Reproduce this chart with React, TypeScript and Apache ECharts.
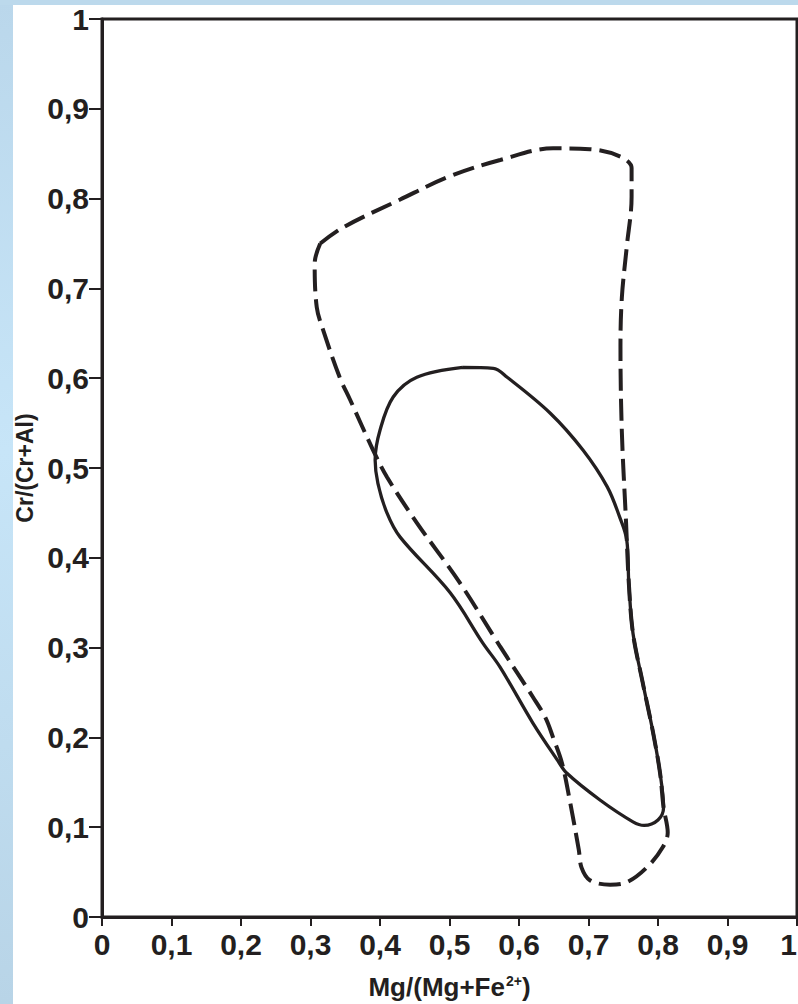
import React, { useEffect, useRef } from "react";
import * as echarts from "echarts";

// Dashed field outline: [Mg/(Mg+Fe2+), Cr/(Cr+Al)]
const dashedField: [number, number][] = [
  [0.314, 0.75], [0.347, 0.768], [0.429, 0.799], [0.501, 0.825], [0.573, 0.843],
  [0.649, 0.856], [0.702, 0.855], [0.745, 0.847], [0.762, 0.834], [0.762, 0.802],
  [0.755, 0.746], [0.748, 0.69], [0.746, 0.635], [0.748, 0.54], [0.754, 0.44],
  [0.758, 0.372], [0.764, 0.316], [0.778, 0.261], [0.793, 0.205], [0.803, 0.16],
  [0.808, 0.122], [0.814, 0.094], [0.807, 0.078], [0.785, 0.056], [0.756, 0.039],
  [0.731, 0.036], [0.702, 0.041], [0.69, 0.055], [0.686, 0.075], [0.673, 0.13],
  [0.662, 0.171], [0.649, 0.2], [0.638, 0.222], [0.62, 0.245], [0.573, 0.301],
  [0.515, 0.372], [0.453, 0.439], [0.41, 0.49], [0.39, 0.52], [0.357, 0.576],
  [0.342, 0.601], [0.318, 0.654], [0.309, 0.679], [0.306, 0.728], [0.314, 0.75],
];

// Solid field outline
const solidField: [number, number][] = [
  [0.519, 0.612], [0.563, 0.611], [0.583, 0.601], [0.645, 0.561], [0.692, 0.52],
  [0.727, 0.479], [0.745, 0.445], [0.755, 0.42], [0.758, 0.372], [0.764, 0.316],
  [0.778, 0.261], [0.793, 0.205], [0.803, 0.16], [0.808, 0.122], [0.8, 0.108],
  [0.78, 0.102], [0.764, 0.106], [0.717, 0.13], [0.669, 0.16], [0.655, 0.175],
  [0.62, 0.216], [0.573, 0.278], [0.548, 0.305], [0.501, 0.361], [0.429, 0.423],
  [0.41, 0.45], [0.397, 0.483], [0.393, 0.509], [0.4, 0.542], [0.419, 0.579],
  [0.453, 0.601], [0.519, 0.612],
];

const xAxisTitle = "{a|Mg/(Mg+Fe}{s|2+}{a|)}";
const yAxisTitle = "Cr/(Cr+Al)";

const INK = "#231f20";
const FONT = "'Liberation Sans', Arial, sans-serif";

const fmt = (v: number) =>
  v === 0 ? "0" : v === 1 ? "1" : v.toFixed(1).replace(".", ",");

export default function App() {
  const ref = useRef<HTMLDivElement>(null);

  useEffect(() => {
    if (!ref.current) return;
    const chart = echarts.init(ref.current, undefined, { renderer: "svg" });
    const blue = {
      type: "linear",
      x: 0, y: 0, x2: 0, y2: 1,
      colorStops: [
        { offset: 0, color: "#bad7eb" },
        { offset: 0.45, color: "#c7e5f8" },
        { offset: 1, color: "#b8d4e7" },
      ],
    };
    chart.setOption({
      animation: false,
      backgroundColor: "#ffffff",
      graphic: [
        { type: "rect", left: 0, top: 0, shape: { width: 13, height: 1004 }, style: { fill: blue }, silent: true },
        { type: "rect", left: 0, top: 0, shape: { width: 798, height: 5 }, style: { fill: "#bcd9ec" }, silent: true },
      ],
      grid: {
        left: 102,
        top: 19,
        right: 1,
        bottom: 87,
        show: true,
        borderColor: INK,
        borderWidth: 3,
        backgroundColor: "transparent",
        containLabel: false,
        outerBoundsMode: "none",
      },
      xAxis: {
        type: "value",
        min: 0,
        max: 1,
        interval: 0.1,
        name: xAxisTitle,
        nameLocation: "middle",
        nameGap: 57,
        nameTextStyle: {
          rich: {
            a: { fontFamily: FONT, fontWeight: "bold", fontSize: 26, color: INK },
            s: { fontFamily: FONT, fontWeight: "bold", fontSize: 14, color: INK, verticalAlign: "top", padding: [0, 0, 0, 1] },
          },
        },
        splitLine: { show: false },
        axisLine: { show: true, lineStyle: { color: INK, width: 3 } },
        axisTick: { show: true, length: 9, lineStyle: { color: INK, width: 2 } },
        axisLabel: {
          formatter: fmt,
          fontFamily: FONT,
          fontWeight: "bold",
          fontSize: 30,
          color: INK,
          margin: 12,
          showMaxLabel: true,
          showMinLabel: true,
          alignMaxLabel: "right",
        },
      },
      yAxis: {
        type: "value",
        min: 0,
        max: 1,
        interval: 0.1,
        name: yAxisTitle,
        nameLocation: "middle",
        nameGap: 66,
        nameTextStyle: { fontFamily: FONT, fontWeight: "bold", fontSize: 23, color: INK },
        splitLine: { show: false },
        axisLine: { show: true, lineStyle: { color: INK, width: 3 } },
        axisTick: { show: true, length: 13, lineStyle: { color: INK, width: 2 } },
        axisLabel: {
          formatter: fmt,
          fontFamily: FONT,
          fontWeight: "bold",
          fontSize: 30,
          color: INK,
          margin: 13,
          showMaxLabel: true,
          showMinLabel: true,
        },
      },
      series: [
        {
          type: "line",
          data: solidField,
          smooth: 0.35,
          symbol: "none",
          lineStyle: { color: INK, width: 3.3, type: "solid" },
          z: 3,
        },
        {
          type: "line",
          data: dashedField,
          smooth: 0.35,
          symbol: "none",
          lineStyle: { color: INK, width: 4, type: [22, 8] },
          z: 2,
        },
      ],
    });
    return () => chart.dispose();
  }, []);

  return (
    <div
      ref={ref}
      style={{ position: "fixed", left: 0, top: 0, width: 798, height: 1004, background: "#ffffff" }}
    />
  );
}
